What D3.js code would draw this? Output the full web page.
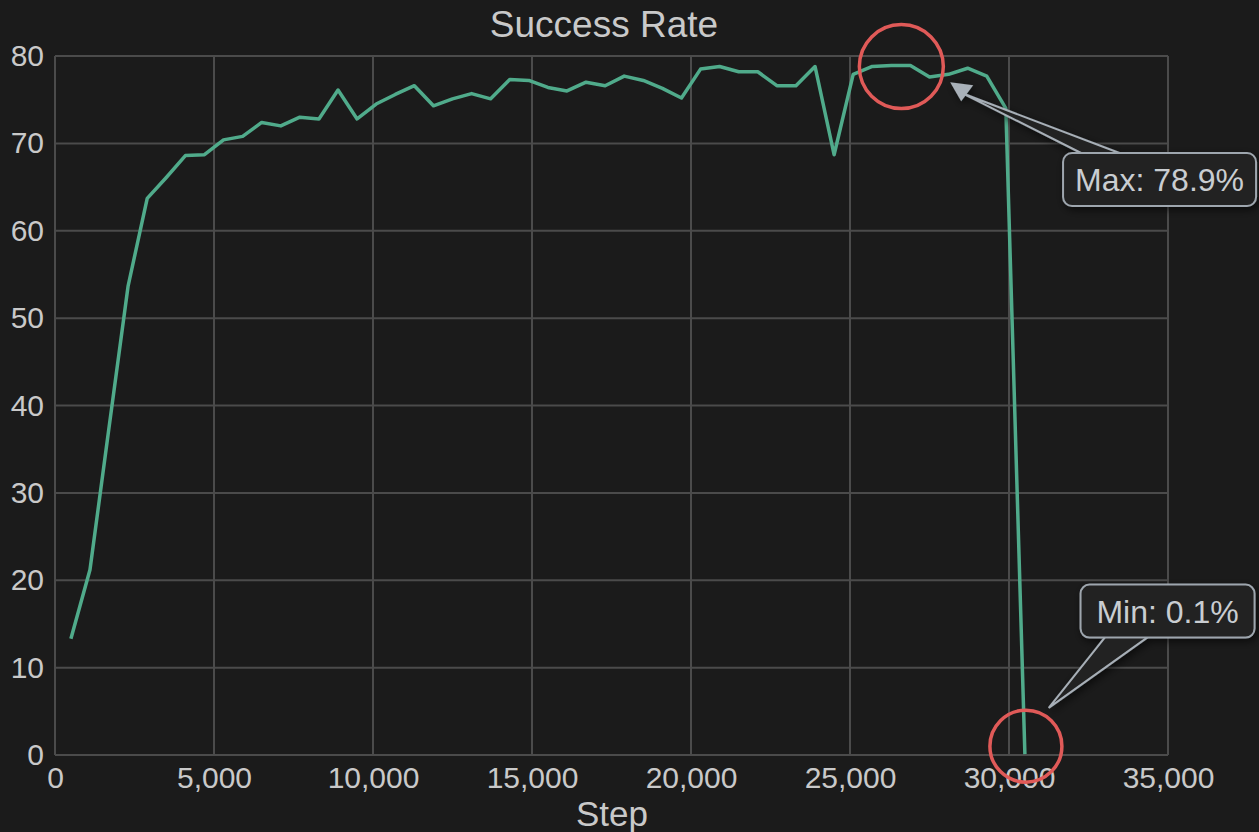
<!DOCTYPE html>
<html lang="en">
<head>
    <meta charset="UTF-8">
    <title>Success Rate</title>
    <script src="https://d3js.org/d3.v7.min.js"></script>
    <style>
        body {
            margin: 0;
            overflow: hidden;
            background-color: #1b1b1b;
            font-family: "Liberation Sans", Arial, sans-serif;
        }
        .grid line {
            stroke: #4b4b4b;
            stroke-width: 2px;
        }
        .tick-label {
            fill: #c9c9c9;
            font-size: 30px;
        }
        .callout-box {
            fill: #222222;
            stroke: #9ea6ae;
            stroke-width: 2px;
        }
        .callout-text {
            fill: #c9cdd1;
            font-size: 32px;
        }
    </style>
</head>
<body>
    <svg width="1259" height="832"></svg>
    <script>
        // training steps
        const steps = [
            500, 1100, 1700, 2300, 2900, 3500, 4100, 4700, 5300, 5900,
            6500, 7100, 7700, 8300, 8900, 9500, 10100, 10700, 11300, 11900,
            12500, 13100, 13700, 14300, 14900, 15500, 16100, 16700, 17300, 17900,
            18500, 19100, 19700, 20300, 20900, 21500, 22100, 22700, 23300, 23900,
            24500, 25100, 25700, 26300, 26900, 27500, 28100, 28700, 29300, 29900,
            30500
        ];

        // success rate in %
        const successRate = [
            13.3, 21.2, 37.5, 53.7, 63.7, 66.1, 68.6, 68.7, 70.4, 70.8,
            72.4, 72.0, 73.0, 72.8, 76.1, 72.8, 74.5, 75.6, 76.6, 74.3,
            75.1, 75.7, 75.1, 77.3, 77.2, 76.4, 76.0, 77.0, 76.6, 77.7,
            77.2, 76.3, 75.2, 78.5, 78.8, 78.2, 78.2, 76.6, 76.6, 78.8,
            68.7, 77.9, 78.8, 78.9, 78.9, 77.6, 77.9, 78.6, 77.7, 74.0,
            0.1
        ];

        const xTicks = [0, 5000, 10000, 15000, 20000, 25000, 30000, 35000];
        const yTicks = [0, 10, 20, 30, 40, 50, 60, 70, 80];

        const chartTitle = "Success Rate";
        const xLabel = "Step";

        const svg = d3.select("svg"),
              width = 1259,
              height = 832;

        const margin = { top: 56, right: 91, bottom: 77, left: 55 };

        const x = d3.scaleLinear()
            .domain([0, 35000])
            .range([margin.left, width - margin.right]);

        const y = d3.scaleLinear()
            .domain([0, 80])
            .range([height - margin.bottom, margin.top]);

        const data = steps.map((s, i) => ({ step: s, value: successRate[i] }));

        // grid
        const grid = svg.append("g").attr("class", "grid");
        grid.selectAll(".vline")
            .data(xTicks)
            .enter().append("line")
            .attr("x1", d => x(d)).attr("x2", d => x(d))
            .attr("y1", y(0)).attr("y2", y(80));
        grid.selectAll(".hline")
            .data(yTicks)
            .enter().append("line")
            .attr("x1", x(0)).attr("x2", x(35000))
            .attr("y1", d => y(d)).attr("y2", d => y(d));

        // axes (labels only, grid doubles as ticks)
        const xAxis = svg.append("g")
            .attr("transform", `translate(0,${y(0)})`)
            .call(d3.axisBottom(x).tickValues(xTicks).tickSize(0).tickPadding(12)
                .tickFormat(d3.format(",")));
        xAxis.select(".domain").remove();
        xAxis.selectAll("text").attr("class", "tick-label").attr("font-size", null).attr("font-family", null);

        const yAxis = svg.append("g")
            .attr("transform", `translate(${x(0)},0)`)
            .call(d3.axisLeft(y).tickValues(yTicks).tickSize(0).tickPadding(11));
        yAxis.select(".domain").remove();
        yAxis.selectAll("text").attr("class", "tick-label").attr("font-size", null).attr("font-family", null);

        // title and axis label
        svg.append("text")
            .attr("x", 604)
            .attr("y", 37)
            .attr("text-anchor", "middle")
            .attr("fill", "#c9c9c9")
            .style("font-size", "37px")
            .text(chartTitle);

        svg.append("text")
            .attr("x", 612)
            .attr("y", 826)
            .attr("text-anchor", "middle")
            .attr("fill", "#c9c9c9")
            .style("font-size", "35px")
            .text(xLabel);

        // the line
        const line = d3.line()
            .x(d => x(d.step))
            .y(d => y(d.value));

        svg.append("path")
            .datum(data)
            .attr("fill", "none")
            .attr("stroke", "#50ab8b")
            .attr("stroke-width", 3.5)
            .attr("stroke-linejoin", "round")
            .attr("d", line);

        // highlight circles
        const maxIdx = d3.maxIndex(successRate);
        const minIdx = d3.minIndex(successRate);
        const maxPt = data[maxIdx], minPt = data[minIdx];

        svg.append("circle")
            .attr("cx", x(maxPt.step) + 10)
            .attr("cy", y(maxPt.value) + 1)
            .attr("r", 42)
            .attr("fill", "none")
            .attr("stroke", "#e05a58")
            .attr("stroke-width", 3.5);

        svg.append("circle")
            .attr("cx", x(minPt.step) + 1)
            .attr("cy", y(minPt.value) - 8)
            .attr("r", 36)
            .attr("fill", "none")
            .attr("stroke", "#e05a58")
            .attr("stroke-width", 3.5);

        // shadow for callouts
        svg.append("defs").append("filter")
            .attr("id", "shadow")
            .append("feDropShadow")
            .attr("dx", 2)
            .attr("dy", 3)
            .attr("stdDeviation", 4)
            .attr("flood-color", "#000")
            .attr("flood-opacity", 0.6);

        // Max callout
        const maxBox = { x: x(31700), y: y(68.9), w: 193, h: 53 };
        const maxTip = { x: x(28150), y: y(77.0) };
        const mg = svg.append("g").attr("filter", "url(#shadow)");
        mg.append("path")
            .attr("d", `M${maxBox.x + 20},${maxBox.y + 1} L${maxTip.x + 12},${maxTip.y + 11} L${maxBox.x + 59},${maxBox.y + 1}`)
            .attr("fill", "#232323")
            .attr("stroke", "#a7afb7")
            .attr("stroke-width", 2);
        mg.append("path")
            .attr("d", `M${maxTip.x},${maxTip.y} L${maxTip.x + 11},${maxTip.y + 19} L${maxTip.x + 23},${maxTip.y + 3} Z`)
            .attr("fill", "#a9b1b9");
        mg.append("rect")
            .attr("class", "callout-box")
            .attr("x", maxBox.x).attr("y", maxBox.y)
            .attr("width", maxBox.w).attr("height", maxBox.h)
            .attr("rx", 9);
        svg.append("text")
            .attr("class", "callout-text")
            .attr("x", maxBox.x + maxBox.w / 2)
            .attr("y", maxBox.y + 38)
            .attr("text-anchor", "middle")
            .text(`Max: ${maxPt.value.toFixed(1)}%`);

        // Min callout
        const minBox = { x: x(32250), y: y(19.5), w: 174, h: 53 };
        const minTip = { x: x(31250), y: y(5.4) };
        const ng = svg.append("g").attr("filter", "url(#shadow)");
        ng.append("path")
            .attr("d", `M${minBox.x + 25},${minBox.y + minBox.h - 1} L${minTip.x},${minTip.y} L${minBox.x + 68},${minBox.y + minBox.h - 1}`)
            .attr("fill", "#232323")
            .attr("stroke", "#a7afb7")
            .attr("stroke-width", 2);
        ng.append("rect")
            .attr("class", "callout-box")
            .attr("x", minBox.x).attr("y", minBox.y)
            .attr("width", minBox.w).attr("height", minBox.h)
            .attr("rx", 9);
        svg.append("text")
            .attr("class", "callout-text")
            .attr("x", minBox.x + minBox.w / 2)
            .attr("y", minBox.y + 38)
            .attr("text-anchor", "middle")
            .text(`Min: ${minPt.value.toFixed(1)}%`);
    </script>
</body>
</html>
